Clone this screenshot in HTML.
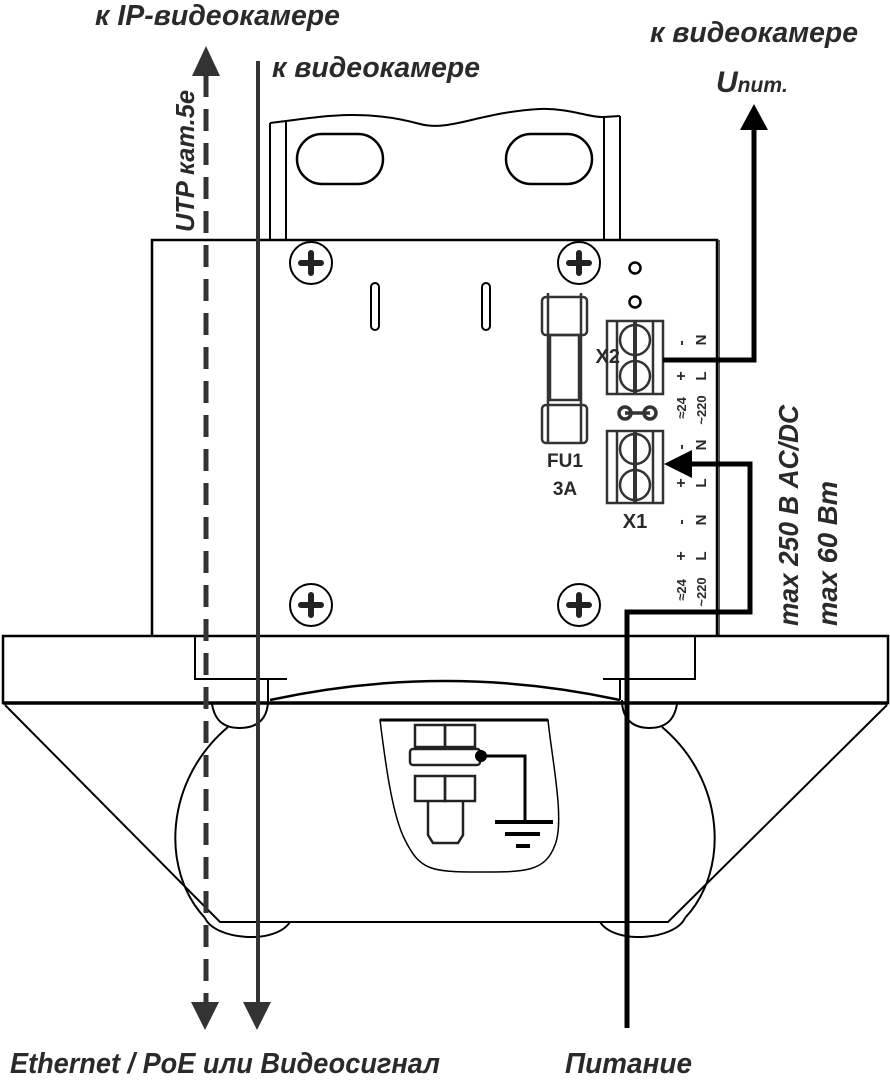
<!DOCTYPE html>
<html><head><meta charset="utf-8"><style>
html,body{margin:0;padding:0;background:#fff}
svg{display:block}
text{font-family:"Liberation Sans",sans-serif;font-weight:bold;font-style:italic;fill:#2a2a2a}
.t{font-style:normal;font-family:"Liberation Sans",sans-serif;font-weight:bold}
</style></head><body>
<svg width="890" height="1080" viewBox="0 0 890 1080" xmlns="http://www.w3.org/2000/svg">
<g fill="none" stroke="#000" stroke-width="2">
<path d="M270 123 L286 121 C330 115 370 110 420 124 C450 132 480 112 540 109 C570 108 590 118 604 117 L620 116"/>
<line x1="270" y1="123" x2="270" y2="240"/><line x1="286" y1="121" x2="286" y2="240"/>
<line x1="604" y1="117" x2="604" y2="240"/><line x1="620" y1="116" x2="620" y2="240"/>
<rect x="297" y="134" width="86" height="50" rx="25" stroke-width="2.5"/>
<rect x="506" y="134" width="86" height="50" rx="25" stroke-width="2.5"/>
<path d="M152 636 V240 H717 V636" stroke-width="2.5"/>
<line x1="719" y1="240" x2="719" y2="636" stroke="#555" stroke-width="2"/>
<circle cx="311" cy="263" r="21"/><circle cx="579" cy="263" r="21"/>
<circle cx="311" cy="605" r="21"/><circle cx="579" cy="605" r="21"/>
<rect x="371" y="283" width="8" height="47" rx="4"/><rect x="482" y="283" width="8" height="47" rx="4"/>
<circle cx="635" cy="268" r="5.5" stroke-width="2.5"/><circle cx="635" cy="302" r="5.5" stroke-width="2.5"/>
<g stroke="#333" stroke-width="2.5">
<rect x="542" y="297" width="45" height="38" rx="4"/><rect x="550" y="335" width="29" height="65"/>
<rect x="542" y="405" width="45" height="38" rx="4"/>
<line x1="548" y1="293" x2="548" y2="443"/><line x1="581" y1="293" x2="581" y2="443"/>
</g>
<g stroke="#333" stroke-width="2.5">
<rect x="607" y="321" width="56" height="73"/><line x1="617" y1="321" x2="617" y2="394"/><line x1="653" y1="321" x2="653" y2="394"/>
<circle cx="635" cy="340" r="15"/><circle cx="635" cy="376" r="15"/><line x1="635" y1="322" x2="635" y2="393" stroke-width="4"/>
<rect x="607" y="431" width="56" height="72"/><line x1="617" y1="431" x2="617" y2="503"/><line x1="653" y1="431" x2="653" y2="503"/>
<circle cx="635" cy="449" r="15"/><circle cx="635" cy="485" r="15"/><line x1="635" y1="432" x2="635" y2="502" stroke-width="4"/>
<circle cx="625" cy="413" r="6" stroke-width="3.5"/><circle cx="650" cy="413" r="6" stroke-width="3.5"/><line x1="625" y1="413" x2="650" y2="413" stroke-width="3.5"/>
</g>
<rect x="3" y="636" width="885" height="67" stroke-width="2.5"/>
<line x1="3" y1="703" x2="888" y2="703" stroke-width="3.5"/>
<path d="M195 636 V679 H287 M268 679 V700 M695 636 V679 H603 M620 679 V700"/>
<path d="M270 700 Q445 662 620 700" stroke-width="2.5"/>
<path d="M212 704 C215 722 225 728 240 728 C258 728 268 718 268 700"/>
<path d="M677 704 C674 722 664 728 649 728 C632 728 622 718 622 700"/>
<path d="M228 727 C165 780 160 870 205 918"/>
<path d="M662 727 C725 780 730 870 685 918"/>
<path d="M5 705 L220 922 H668 L887 705" stroke-width="2"/>
<path d="M205 918 C215 940 275 945 290 922"/><path d="M600 922 C615 945 675 940 685 918"/>
<path d="M380 720 H548 C552 760 565 820 555 845 C545 872 525 872 480 872 C430 872 420 870 405 840 C392 815 385 760 380 720 Z" stroke-width="1.5"/>
<line x1="380" y1="720" x2="548" y2="720" stroke-width="3"/>
<g stroke="#222" stroke-width="2.5">
<rect x="415" y="725" width="30" height="22"/><rect x="445" y="725" width="30" height="22"/>
<rect x="410" y="749" width="70" height="16" rx="3"/>
<rect x="415" y="776" width="30" height="25"/><rect x="445" y="776" width="30" height="25"/>
<path d="M428 801 V835 L433 843 H458 L463 835 V801"/>
</g>
<circle cx="481" cy="756" r="5" fill="#000"/>
<path d="M481 756 H525 V820" stroke-width="3"/>
<line x1="495" y1="822" x2="553" y2="822" stroke-width="4"/>
<line x1="505" y1="834" x2="540" y2="834" stroke-width="4"/>
<line x1="516" y1="846" x2="530" y2="846" stroke-width="4"/>
</g>
<g stroke="#222" stroke-width="6" stroke-linecap="round">
<path d="M301 263 H321 M311 253 V273 M569 263 H589 M579 253 V273 M301 605 H321 M311 595 V615 M569 605 H589 M579 595 V615"/>
</g>
<line x1="206" y1="75" x2="206" y2="1002" stroke="#333" stroke-width="5" stroke-dasharray="22,12"/>
<polygon points="206,46 192,76 220,76" fill="#333"/>
<polygon points="205,1030 191,1002 219,1002" fill="#333"/>
<line x1="258" y1="61" x2="258" y2="1002" stroke="#333" stroke-width="4"/>
<polygon points="257,1030 243,1002 271,1002" fill="#333"/>
<path d="M663 360 H754 V128" fill="none" stroke="#000" stroke-width="5"/>
<polygon points="754,104 740,130 768,130" fill="#000"/>
<path d="M690 464 H750 V612 H627 V1028" fill="none" stroke="#000" stroke-width="5"/>
<polygon points="664,464 692,450 692,478" fill="#000"/>
<text x="95" y="25" font-size="29" textLength="245" lengthAdjust="spacingAndGlyphs">к IP-видеокамере</text>
<text x="272" y="77" font-size="29" textLength="208" lengthAdjust="spacingAndGlyphs">к видеокамере</text>
<text x="650" y="42" font-size="29" textLength="208" lengthAdjust="spacingAndGlyphs">к видеокамере</text>
<text x="716" y="92" font-size="30">U<tspan font-size="21">num.</tspan></text>
<text transform="translate(194,232) rotate(-90)" font-size="26" textLength="142" lengthAdjust="spacingAndGlyphs">UTP кат.5е</text>
<text transform="translate(798,626) rotate(-90)" font-size="28" textLength="221" lengthAdjust="spacingAndGlyphs">max 250 В AC/DC</text>
<text transform="translate(837,626) rotate(-90)" font-size="28" textLength="145" lengthAdjust="spacingAndGlyphs">max 60 Вт</text>
<text x="10" y="1073" font-size="29" textLength="430" lengthAdjust="spacingAndGlyphs">Ethernet / PoE или Видеосигнал</text>
<text x="565" y="1073" font-size="29" textLength="127" lengthAdjust="spacingAndGlyphs">Питание</text>
<text class="t" x="565" y="467" text-anchor="middle" font-size="19">FU1</text>
<text class="t" x="565" y="495" text-anchor="middle" font-size="19">3A</text>
<text class="t" x="620" y="363" text-anchor="end" font-size="20">X2</text>
<text class="t" x="635" y="528" text-anchor="middle" font-size="20">X1</text>
<text class="t" transform="translate(686,343) rotate(-90)" text-anchor="middle" font-size="16">-</text>
<text class="t" transform="translate(706,340) rotate(-90)" text-anchor="middle" font-size="15">N</text>
<text class="t" transform="translate(686,376) rotate(-90)" text-anchor="middle" font-size="16">+</text>
<text class="t" transform="translate(706,376) rotate(-90)" text-anchor="middle" font-size="15">L</text>
<text class="t" transform="translate(686,408) rotate(-90)" text-anchor="middle" font-size="13">≈24</text>
<text class="t" transform="translate(706,410) rotate(-90)" text-anchor="middle" font-size="13">~220</text>
<text class="t" transform="translate(686,447) rotate(-90)" text-anchor="middle" font-size="16">-</text>
<text class="t" transform="translate(706,445) rotate(-90)" text-anchor="middle" font-size="15">N</text>
<text class="t" transform="translate(686,483) rotate(-90)" text-anchor="middle" font-size="16">+</text>
<text class="t" transform="translate(706,483) rotate(-90)" text-anchor="middle" font-size="15">L</text>
<text class="t" transform="translate(686,522) rotate(-90)" text-anchor="middle" font-size="16">-</text>
<text class="t" transform="translate(706,520) rotate(-90)" text-anchor="middle" font-size="15">N</text>
<text class="t" transform="translate(686,556) rotate(-90)" text-anchor="middle" font-size="16">+</text>
<text class="t" transform="translate(706,556) rotate(-90)" text-anchor="middle" font-size="15">L</text>
<text class="t" transform="translate(686,590) rotate(-90)" text-anchor="middle" font-size="13">≈24</text>
<text class="t" transform="translate(706,592) rotate(-90)" text-anchor="middle" font-size="13">~220</text>
</svg>
</body></html>
